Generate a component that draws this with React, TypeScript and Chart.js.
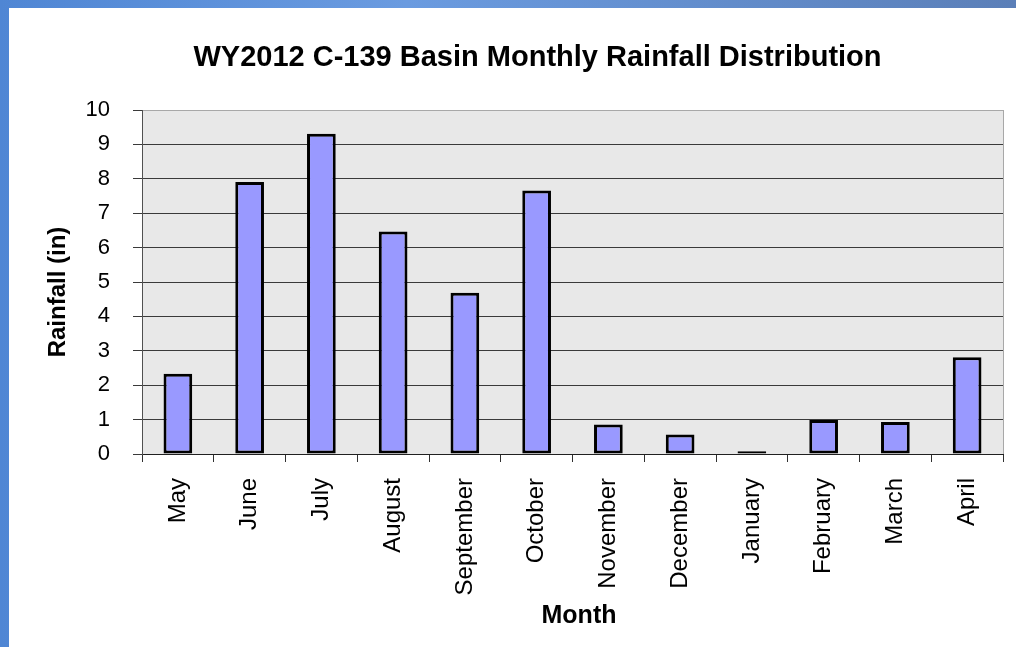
import React, { useEffect, useRef } from "react";
import { Chart, registerables } from "chart.js";

Chart.register(...registerables);

const months = ["May", "June", "July", "August", "September", "October", "November", "December", "January", "February", "March", "April"];
const rainfall = [2.33, 7.91, 9.31, 6.47, 4.69, 7.66, 0.86, 0.57, 0.08, 0.99, 0.93, 2.81];
const yTicks = [0, 1, 2, 3, 4, 5, 6, 7, 8, 9, 10];
const titleText = "WY2012 C-139 Basin Monthly Rainfall Distribution";
const yTitle = "Rainfall (in)";
const xTitle = "Month";

const FONT = "'Liberation Sans', Arial, sans-serif";

const plotBg = {
  id: "plotBg",
  beforeDraw(chart: any) {
    const { ctx, chartArea } = chart;
    ctx.save();
    ctx.fillStyle = "#e8e8e8";
    ctx.fillRect(chartArea.left, chartArea.top, chartArea.right - chartArea.left, chartArea.bottom - chartArea.top);
    ctx.restore();
  },
  afterDatasetsDraw(chart: any) {
    const { ctx, chartArea } = chart;
    ctx.save();
    ctx.strokeStyle = "#a8a8a8";
    ctx.lineWidth = 1;
    ctx.beginPath();
    ctx.moveTo(Math.round(chartArea.right) + 0.5, chartArea.top);
    ctx.lineTo(Math.round(chartArea.right) + 0.5, chartArea.bottom);
    ctx.stroke();
    ctx.restore();
  },
  afterDraw(chart: any) {
    const { ctx, chartArea } = chart;
    const cx = (chartArea.left + chartArea.right) / 2;
    ctx.save();
    ctx.fillStyle = "#000";
    ctx.textAlign = "center";
    ctx.textBaseline = "middle";
    ctx.font = `bold 29px ${FONT}`;
    ctx.fillText(titleText, cx - 35, chartArea.top - 52);
    ctx.font = `bold 25px ${FONT}`;
    ctx.fillText(xTitle, cx + 6.5, chartArea.bottom + 162);
    ctx.translate(chartArea.left - 84, (chartArea.top + chartArea.bottom) / 2 + 10);
    ctx.rotate(-Math.PI / 2);
    ctx.font = `bold 24px ${FONT}`;
    ctx.fillText(yTitle, 0, 0);
    ctx.restore();
  },
};

export default function App() {
  const ref = useRef<HTMLCanvasElement>(null);
  useEffect(() => {
    document.body.style.margin = "0";
    const chart = new Chart(ref.current!, {
      type: "bar",
      data: {
        labels: months,
        datasets: [
          {
            data: rainfall,
            backgroundColor: "#9999ff",
            borderColor: "#000000",
            borderWidth: 3,
            borderSkipped: false,
            inflateAmount: 0,
            categoryPercentage: 1,
            barPercentage: 0.4,
          },
        ],
      },
      options: {
        animation: false,
        responsive: false,
        maintainAspectRatio: false,
        layout: { padding: { left: 20, right: 13, top: 110, bottom: 0 } },
        plugins: {
          legend: { display: false },
          tooltip: { enabled: false },
          title: { display: false },
        },
        scales: {
          x: {
            offset: true,
            grid: {
              offset: true,
              drawOnChartArea: false,
              drawTicks: true,
              tickLength: 8,
              color: "#303030",
              tickColor: "#303030",
            },
            border: { color: "#202020", width: 1 },
            ticks: {
              autoSkip: false,
              minRotation: 90,
              maxRotation: 90,
              padding: 16,
              color: "#000",
              font: { family: FONT, size: 24 },
            },
            afterFit(scale: any) {
              scale.height = 193;
            },
          },
          y: {
            min: 0,
            max: 10,
            afterBuildTicks(scale: any) {
              scale.ticks = yTicks.map((v) => ({ value: v }));
            },
            grid: {
              tickLength: 9,
              color: (c: any) => (c.tick && c.tick.value === 10 ? "#a8a8a8" : "#3a3a3a"),
              tickColor: "#3a3a3a",
            },
            border: { color: "#505050", width: 1 },
            ticks: {
              padding: 23,
              color: "#000",
              font: { family: FONT, size: 22 },
            },
            afterFit(scale: any) {
              scale.width = 122;
            },
          },
        },
      },
      plugins: [plotBg],
    });
    return () => chart.destroy();
  }, []);

  return (
    <div
      style={{
        position: "fixed",
        left: 0,
        top: 0,
        width: 1016,
        height: 647,
        background: "linear-gradient(90deg, #4f86d4 0%, #6a9be0 40%, #5b7fb8 100%)",
        overflow: "hidden",
      }}
    >
      <div style={{ position: "absolute", left: 9, top: 8, right: 0, bottom: 0, background: "#ffffff" }} />
      <canvas ref={ref} width={1016} height={647} style={{ position: "absolute", left: 0, top: 0, width: 1016, height: 647 }} />
    </div>
  );
}
